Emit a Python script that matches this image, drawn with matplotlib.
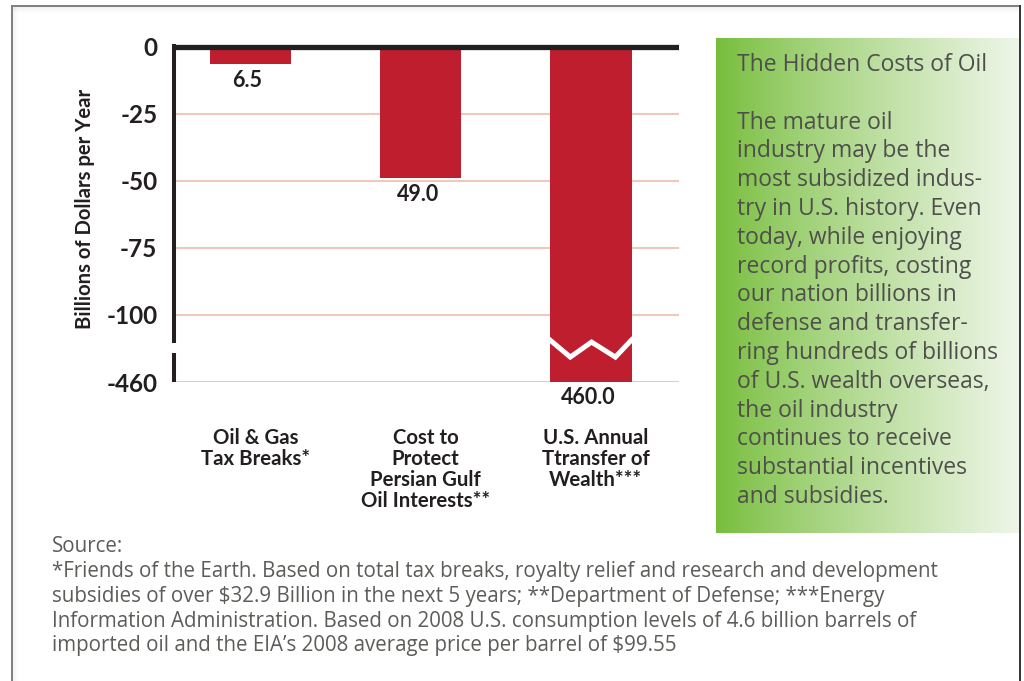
import matplotlib
matplotlib.use("Agg")
import matplotlib.pyplot as plt
import numpy as np
from matplotlib.lines import Line2D
from matplotlib.transforms import blended_transform_factory, offset_copy

# ---------------- data ----------------
categories = ["Oil & Gas\nTax Breaks*",
              "Cost to\nProtect\nPersian Gulf\nOil Interests**",
              "U.S. Annual\nTtransfer of\nWealth***"]
values = [6.5, 49.0, 460.0]
value_labels = ["6.5", "49.0", "460.0"]
tick_values = [0, 25, 50, 75, 100, 460]
tick_labels = ["0", "-25", "-50", "-75", "-100", "-460"]
ylabel = "Billions of Dollars per Year"

box_title = "The Hidden Costs of Oil"
box_lines = ["The mature oil",
             "industry may be the",
             "most subsidized indus-",
             "try in U.S. history. Even",
             "today, while enjoying",
             "record profits, costing",
             "our nation billions in",
             "defense and transfer-",
             "ring hundreds of billions",
             "of U.S. wealth overseas,",
             "the oil industry",
             "continues to receive",
             "substantial incentives",
             "and subsidies."]
source_lines = ["Source:",
                "*Friends of the Earth. Based on total tax breaks, royalty relief and research and development",
                "subsidies of over $32.9 Billion in the next 5 years; **Department of Defense; ***Energy",
                "Information Administration. Based on 2008 U.S. consumption levels of 4.6 billion barrels of",
                "imported oil and the EIA\u2019s 2008 average price per barrel of $99.55"]

# broken axis: values above 100 are compressed into a 25-unit segment
BREAK_LOW, BREAK_HIGH, BREAK_SPAN = 100, 460, 25


def to_axis(v):
    if v <= BREAK_LOW:
        return -v
    return -(BREAK_LOW + (v - BREAK_LOW) * BREAK_SPAN / (BREAK_HIGH - BREAK_LOW))


# ---------------- figure ----------------
W, H = 1024, 681
fig = plt.figure(figsize=(W / 100, H / 100), dpi=100)
fig.patch.set_facecolor("white")


def fx(x):
    return x / W


def fy(y):
    return 1 - y / H


renderer = fig.canvas.get_renderer()
BOLD = ["Lato", "DejaVu Sans"]
LIGHT = ["Open Sans", "DejaVu Sans"]


def fit_size(text, family, weight, target_px, ref=12.0):
    t = fig.text(0, 0, text, fontsize=ref, family=family, weight=weight)
    w = t.get_window_extent(renderer).width
    t.remove()
    return ref * target_px / w


tick_fs = fit_size("-100", BOLD, "bold", 51)
val_fs = fit_size("460.0", BOLD, "bold", 55)
cat_fs = fit_size("Persian Gulf", BOLD, "bold", 110)
ylab_fs = fit_size(ylabel, BOLD, "bold", 238)
box_fs = fit_size("ring hundreds of billions", LIGHT, "normal", 259)
src_fs = fit_size(source_lines[1], LIGHT, "normal", 883)

DARK = "#231F20"
RED = "#BE1E2D"
GRID = "#EEC8BB"

# ---------------- chart axes ----------------
ax = fig.add_axes([fx(174), fy(382), (679 - 174) / W, (382 - 44) / H])
ax.set_xlim(-0.449, 2.519)
ax.set_ylim(-125, 1.1)
ax.set_facecolor("none")
for s in ax.spines.values():
    s.set_visible(False)

x = np.arange(len(values))
ax.bar(x, [to_axis(v) for v in values], width=0.48, color=RED, zorder=2)

for t in tick_values[1:]:
    ax.axhline(to_axis(t), color=GRID, lw=1.5, zorder=1)
ax.axhline(0, color=DARK, lw=3.8, zorder=5, solid_capstyle="butt")

ax.set_xticks([])
ax.set_yticks([to_axis(t) for t in tick_values])
ax.set_yticklabels(tick_labels, fontsize=tick_fs, family=BOLD, weight="bold", color=DARK)
ax.tick_params(axis="y", length=0, pad=12)

# y axis with break
trans_y = blended_transform_factory(ax.transAxes, ax.transData)
brk_top = to_axis(BREAK_LOW) - 10.4
brk_bot = to_axis(BREAK_LOW) - 14.2
ax.plot([0, 0], [1.1, brk_top], transform=trans_y, color=DARK, lw=2.9,
        clip_on=False, solid_capstyle="butt", zorder=6)
ax.plot([0, 0], [brk_bot, to_axis(BREAK_HIGH)], transform=trans_y, color=DARK, lw=2.9,
        clip_on=False, solid_capstyle="butt", zorder=6)

# zigzag break mark on the broken bar
bi = int(np.argmax(values))
zx = bi + np.array([-0.24, -0.12, 0.005, 0.145, 0.24])
zy = to_axis(BREAK_LOW) + np.array([-9.3, -15.7, -10.1, -15.7, -9.3])
ax.plot(zx, zy, color="white", lw=3.6, solid_joinstyle="miter", zorder=3)

# value labels
for i, (v, lab) in enumerate(zip(values, value_labels)):
    ax.annotate(lab, xy=(i, to_axis(v)), xytext=(-2, -11.5), textcoords="offset points",
                ha="center", va="center", fontsize=val_fs, family=BOLD, weight="bold",
                color=DARK, annotation_clip=False)

# category labels
trans_c = offset_copy(blended_transform_factory(ax.transData, fig.transFigure),
                      fig=fig, x=5, y=0, units="dots")
for i, c in enumerate(categories):
    ax.text(i, fy(428), c, transform=trans_c, ha="center", va="top", multialignment="center",
            fontsize=cat_fs, family=BOLD, weight="bold", color=DARK, linespacing=1.06)

fig.text(fx(85), fy(209), ylabel, rotation=90, ha="center", va="center",
         fontsize=ylab_fs, family=BOLD, weight="bold", color=DARK)

# ---------------- green side box ----------------
bax = fig.add_axes([fx(716), fy(533), (1019 - 716) / W, (533 - 38) / H])
bax.set_axis_off()
t = np.linspace(0, 1, 400) ** 0.85
c0 = np.array([0x76, 0xBD, 0x3A]) / 255
c1 = np.array([0xEE, 0xF6, 0xE8]) / 255
grad = (c0[None, :] * (1 - t[:, None]) + c1[None, :] * t[:, None])[None, :, :]
bax.imshow(grad, aspect="auto", extent=[0, 1, 0, 1])
bax.set_xlim(0, 1)
bax.set_ylim(0, 1)

BOXTXT = "#4E4F4B"
fig.text(fx(737), fy(65), box_title, ha="left", va="center", fontsize=box_fs,
         family=LIGHT, color=BOXTXT)
for k, line in enumerate(box_lines):
    fig.text(fx(737), fy(65 + (k + 2) * 28.8), line, ha="left", va="center",
             fontsize=box_fs, family=LIGHT, color=BOXTXT)

# ---------------- source notes ----------------
SRCTXT = "#5C5D59"
for k, line in enumerate(source_lines):
    fig.text(fx(52), fy(547 + k * 24.7), line, ha="left", va="center",
             fontsize=src_fs, family=LIGHT, color=SRCTXT)

# ---------------- page frame ----------------
for k in range(1, 7):
    fig.add_artist(Line2D([fx(12), fx(1018)], [fy(6 + k), fy(6 + k)], color="#000000",
                          alpha=0.05 * (7 - k) / 6, lw=0.72))
    fig.add_artist(Line2D([fx(12 + k), fx(12 + k)], [fy(7), fy(681)], color="#000000",
                          alpha=0.04 * (7 - k) / 6, lw=0.72))
fig.add_artist(Line2D([fx(11.5), fx(1019)], [fy(6), fy(6)], color="#7E7E7E", lw=1.4))
fig.add_artist(Line2D([fx(11.5), fx(11.5)], [fy(6), fy(681)], color="#7E7E7E", lw=1.4))
fig.add_artist(Line2D([fx(1019.5), fx(1019.5)], [fy(6), fy(681)], color="#333333", lw=1.4))

fig.savefig("out.png", dpi=100, facecolor="white")
